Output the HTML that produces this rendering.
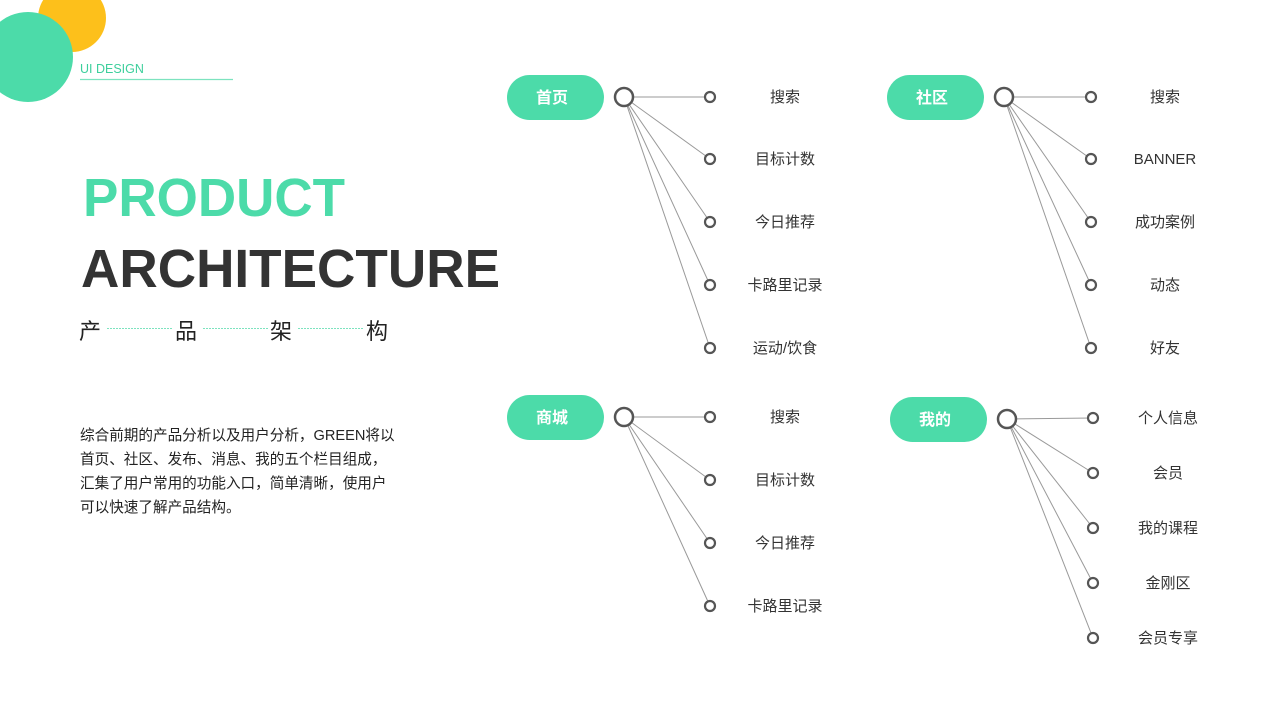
<!DOCTYPE html>
<html><head><meta charset="utf-8"><style>
html,body{margin:0;padding:0;background:#fff;}
body{width:1280px;height:720px;overflow:hidden;position:relative;font-family:"Liberation Sans","Noto Sans CJK SC",sans-serif;}
svg{position:absolute;left:0;top:0;}
</style></head><body>
<svg width="1280" height="720" viewBox="0 0 1280 720" font-family="Liberation Sans, Noto Sans CJK SC, sans-serif">
<circle cx="72" cy="18" r="34" fill="#fdc01b"/>
<circle cx="28" cy="57" r="45" fill="#4cdba9"/>
<text x="80" y="73" font-size="12.5" fill="#3dcf9c">UI DESIGN</text>
<line x1="80" y1="79.5" x2="233" y2="79.5" stroke="#7de3bf" stroke-width="1.2"/>
<text x="83" y="216" font-size="54" font-weight="bold" fill="#4cdba9" textLength="262" lengthAdjust="spacingAndGlyphs">PRODUCT</text>
<text x="81" y="287" font-size="54" font-weight="bold" fill="#333" textLength="419" lengthAdjust="spacingAndGlyphs">ARCHITECTURE</text>
<g font-size="22" fill="#222">
<text x="79" y="339">产</text><text x="175" y="339">品</text><text x="270" y="339">架</text><text x="366" y="339">构</text>
</g>
<g stroke="#7de3bf" stroke-width="1" stroke-dasharray="2,1">
<line x1="107" y1="328.5" x2="172" y2="328.5"/><line x1="203" y1="328.5" x2="268" y2="328.5"/><line x1="298" y1="328.5" x2="363" y2="328.5"/>
</g>
<g font-size="14.6" fill="#222">
<text x="80" y="440">综合前期的产品分析以及用户分析，GREEN将以</text>
<text x="80" y="464">首页、社区、发布、消息、我的五个栏目组成，</text>
<text x="80" y="488">汇集了用户常用的功能入口，简单清晰，使用户</text>
<text x="80" y="512">可以快速了解产品结构。</text>
</g>

<g stroke="#999" stroke-width="1">
<line x1="624" y1="97" x2="710" y2="97" stroke="#bbb" stroke-width="1.5"/>
<line x1="624" y1="97" x2="710" y2="159"/><line x1="624" y1="97" x2="710" y2="222"/><line x1="624" y1="97" x2="710" y2="285"/><line x1="624" y1="97" x2="710" y2="348"/>
<line x1="1004" y1="97" x2="1091" y2="97" stroke="#bbb" stroke-width="1.5"/>
<line x1="1004" y1="97" x2="1091" y2="159"/><line x1="1004" y1="97" x2="1091" y2="222"/><line x1="1004" y1="97" x2="1091" y2="285"/><line x1="1004" y1="97" x2="1091" y2="348"/>
<line x1="624" y1="417" x2="710" y2="417" stroke="#bbb" stroke-width="1.5"/>
<line x1="624" y1="417" x2="710" y2="480"/><line x1="624" y1="417" x2="710" y2="543"/><line x1="624" y1="417" x2="710" y2="606"/>
<line x1="1007" y1="419" x2="1093" y2="418"/>
<line x1="1007" y1="419" x2="1093" y2="473"/><line x1="1007" y1="419" x2="1093" y2="528"/><line x1="1007" y1="419" x2="1093" y2="583"/><line x1="1007" y1="419" x2="1093" y2="638"/>
</g>
<g fill="#4cdba9">
<rect x="507" y="75" width="97" height="45" rx="22.5"/>
<rect x="887" y="75" width="97" height="45" rx="22.5"/>
<rect x="507" y="395" width="97" height="45" rx="22.5"/>
<rect x="890" y="397" width="97" height="45" rx="22.5"/>
</g>
<g fill="#fff" font-size="16" font-weight="bold" text-anchor="middle">
<text x="552" y="103">首页</text><text x="932" y="103">社区</text><text x="552" y="423">商城</text><text x="935" y="425">我的</text>
</g>
<g fill="#fff" stroke="#555" stroke-width="2.5">
<circle cx="624" cy="97" r="9"/><circle cx="1004" cy="97" r="9"/><circle cx="624" cy="417" r="9"/><circle cx="1007" cy="419" r="9"/>
</g>
<g fill="#fff" stroke="#555" stroke-width="2.2">
<circle cx="710" cy="97" r="5"/><circle cx="710" cy="159" r="5"/><circle cx="710" cy="222" r="5"/><circle cx="710" cy="285" r="5"/><circle cx="710" cy="348" r="5"/>
<circle cx="1091" cy="97" r="5"/><circle cx="1091" cy="159" r="5"/><circle cx="1091" cy="222" r="5"/><circle cx="1091" cy="285" r="5"/><circle cx="1091" cy="348" r="5"/>
<circle cx="710" cy="417" r="5"/><circle cx="710" cy="480" r="5"/><circle cx="710" cy="543" r="5"/><circle cx="710" cy="606" r="5"/>
<circle cx="1093" cy="418" r="5"/><circle cx="1093" cy="473" r="5"/><circle cx="1093" cy="528" r="5"/><circle cx="1093" cy="583" r="5"/><circle cx="1093" cy="638" r="5"/>
</g>
<g fill="#333" font-size="15" text-anchor="middle">
<text x="785" y="102">搜索</text><text x="785" y="164">目标计数</text><text x="785" y="227">今日推荐</text><text x="785" y="290">卡路里记录</text><text x="785" y="353">运动/饮食</text>
<text x="1165" y="102">搜索</text><text x="1165" y="164">BANNER</text><text x="1165" y="227">成功案例</text><text x="1165" y="290">动态</text><text x="1165" y="353">好友</text>
<text x="785" y="422">搜索</text><text x="785" y="485">目标计数</text><text x="785" y="548">今日推荐</text><text x="785" y="611">卡路里记录</text>
<text x="1168" y="423">个人信息</text><text x="1168" y="478">会员</text><text x="1168" y="533">我的课程</text><text x="1168" y="588">金刚区</text><text x="1168" y="643">会员专享</text>
</g>
</svg>
</body></html>
